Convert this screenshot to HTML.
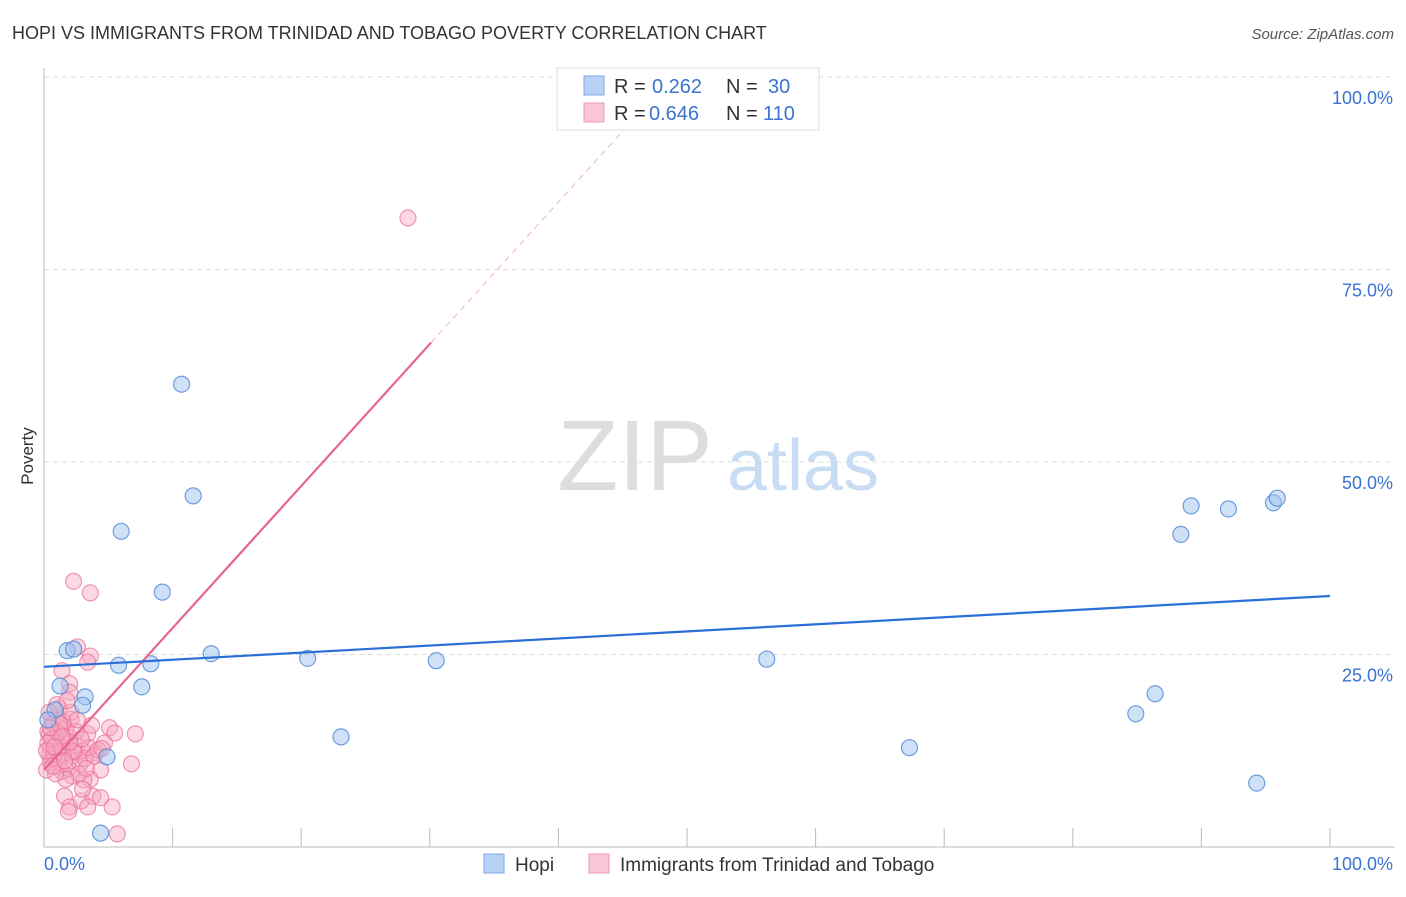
<!DOCTYPE html>
<html><head><meta charset="utf-8"><style>
body{margin:0;background:#fff;font-family:"Liberation Sans",sans-serif;}
svg text{font-family:"Liberation Sans",sans-serif;}
</style></head><body>
<svg width="1406" height="892">
<text x="12" y="39" font-size="18" fill="#333">HOPI VS IMMIGRANTS FROM TRINIDAD AND TOBAGO POVERTY CORRELATION CHART</text>
<text x="1394" y="39" font-size="15" font-style="italic" fill="#555" text-anchor="end">Source: ZipAtlas.com</text>
<g id="grid"></g>
<text x="635" y="490" font-size="100" font-family="Liberation Serif" fill="#ddd" text-anchor="middle">ZIP</text>
<text x="803" y="490" font-size="72" fill="#c8dcf3" text-anchor="middle">atlas</text>
<text x="33" y="456" font-size="17" fill="#333" text-anchor="middle" transform="rotate(-90 33 456)">Poverty</text>
<g id="marks"></g>
<g>
<rect x="557" y="68" width="262" height="62" fill="#fff" stroke="#ddd"/>
<rect x="584" y="76" width="20" height="19" fill="#b8d2f5" stroke="#7fa9e6"/>
<rect x="584" y="103" width="20" height="19" fill="#f9c6d5" stroke="#ee9ab4"/>
<text x="614" y="93" font-size="20" fill="#333">R =</text>
<text x="652" y="93" font-size="20" fill="#3a73d0">0.262</text>
<text x="726" y="93" font-size="20" fill="#333">N =</text>
<text x="768" y="93" font-size="20" fill="#3a73d0">30</text>
<text x="614" y="120" font-size="20" fill="#333">R =</text>
<text x="649" y="120" font-size="20" fill="#3a73d0">0.646</text>
<text x="726" y="120" font-size="20" fill="#333">N =</text>
<text x="763" y="120" font-size="20" fill="#3a73d0">110</text>
</g>
<g>
<rect x="484" y="854" width="20" height="19" fill="#b8d2f5" stroke="#7fa9e6"/>
<text x="515" y="871" font-size="19" fill="#333">Hopi</text>
<rect x="589" y="854" width="20" height="19" fill="#f9c6d5" stroke="#ee9ab4"/>
<text x="620" y="871" font-size="19" fill="#333">Immigrants from Trinidad and Tobago</text>
</g>
</svg>
<script>
const yTicks=[25,50,75,100];
const yTickLabels=["25.0%","50.0%","75.0%","100.0%"];
const hopiX=[0.86,1.25,1.8,2.3,3.2,3.0,4.4,4.9,5.8,6.0,7.6,8.3,9.2,10.7,11.6,13.0,20.5,23.1,30.5,56.2,67.3,84.9,86.4,88.4,89.2,92.1,94.3,95.6,95.9,0.3];
const hopiY=[17.8,20.9,25.5,25.7,19.5,18.4,1.8,11.7,23.6,41.0,20.8,23.8,33.1,60.1,45.6,25.1,24.5,14.3,24.2,24.4,12.9,17.3,19.9,40.6,44.3,43.9,8.3,44.7,45.3,16.5];
const trinX=[2.3,3.6,28.3,2.6,3.6,3.4,1.4,2.0,2.0,1.2,2.1,1.7,3.4,5.1,7.1,5.5,4.7,4.0,6.8,4.4,3.6,2.2,1.6,2.0,2.9,3.8,3.4,5.3,5.7,1.9,3.1,4.4,0.3,0.5,0.6,0.8,1.0,1.1,0.4,0.7,0.9,1.3,1.5,1.6,0.2,0.4,0.6,1.2,1.8,2.0,2.2,2.4,2.6,2.8,3.0,1.4,1.0,0.3,0.5,0.8,1.1,1.9,2.5,3.2,3.5,3.9,4.2,2.7,1.7,0.9,1.3,0.6,1.5,2.1,2.9,3.7,4.5,1.0,1.8,0.4,0.2,0.7,1.2,2.3,1.6,3.3,2.0,0.5,1.4,0.8,2.6,3.0];
const trinY=[34.5,33,81.7,26,24.8,24,22.9,21.2,20.1,18,16.6,15.3,14.7,15.5,14.7,14.8,13.5,12.2,10.8,10.0,8.8,9.2,6.6,5.2,6.0,6.6,5.2,5.2,1.7,4.6,8.7,6.4,15,13,11.5,14,12.5,10.5,12,16,13.5,15.5,12,13.8,10,14.5,16.5,11,12.8,14.2,11.8,13.2,12.2,10.8,12.5,9.8,17,13.5,11,12,14.8,10.2,15,11.5,12.9,11.8,12.6,9.5,8.8,9.5,13,14,16.2,17.5,14,15.8,12.8,18.5,19,17.5,12.5,10.5,16,12.4,11.2,10.2,13.6,15.5,14.4,13,16.5,7.5];
const hopiFit=[23.4,32.6];
const trinFit=[10,65.5];
const trinFitEnd=30.1, trinDashEnd=45.6;
const xs=v=>44+v*12.86, ys=v=>847-v*7.7;
const NS="http://www.w3.org/2000/svg";
function mk(t,a,p){const e=document.createElementNS(NS,t);for(const k in a)e.setAttribute(k,a[k]);p.appendChild(e);return e;}
const g=document.getElementById('grid'), m=document.getElementById('marks');
yTicks.forEach((t,i)=>{
 const l=mk('line',{x1:44,x2:1395,y1:ys(t),y2:ys(t),stroke:'#ddd','stroke-dasharray':'5,4'},g);
 
 
 const tx=mk('text',{x:1393,y:ys(t)+27,'font-size':18,fill:'#3a73d0','text-anchor':'end'},g);
 tx.textContent=yTickLabels[i];
 
 
});
let a=mk('line',{x1:44,x2:44,y1:68,y2:847,stroke:'#bbb'},g);


a=mk('line',{x1:44,x2:1395,y1:847,y2:847,stroke:'#bbb'},g);


for(let i=1;i<=10;i++){const t=mk('line',{x1:xs(i*10),x2:xs(i*10),y1:828,y2:847,stroke:'#bbb'},g);
 
 }
[["0.0%",44,'start'],["100.0%",1393,'end']].forEach(d=>{const t=mk('text',{x:d[1],y:870,'font-size':18,fill:'#3a73d0','text-anchor':d[2]},g);t.textContent=d[0];
 
 });
trinX.forEach((x,i)=>{const c=mk('circle',{cx:xs(x),cy:ys(trinY[i]),r:8,fill:'rgba(246,168,192,0.45)',stroke:'rgba(233,110,148,0.7)','stroke-width':1.2},m);
 
 });
hopiX.forEach((x,i)=>{const c=mk('circle',{cx:xs(x),cy:ys(hopiY[i]),r:8,fill:'rgba(160,196,240,0.5)',stroke:'rgba(80,135,215,0.8)','stroke-width':1.2},m);
 
 });
const tslope=(trinFit[1]-trinFit[0])/trinFitEnd;
let l=mk('line',{x1:xs(trinFitEnd),y1:ys(trinFit[1]),x2:xs(trinDashEnd),y2:ys(trinFit[0]+tslope*trinDashEnd),stroke:'#f0b0c4','stroke-width':1,'stroke-dasharray':'6,5'},m);


l=mk('line',{x1:xs(0),y1:ys(trinFit[0]),x2:xs(trinFitEnd),y2:ys(trinFit[1]),stroke:'#e8658f','stroke-width':2.2},m);


l=mk('line',{x1:xs(0),y1:ys(hopiFit[0]),x2:xs(100),y2:ys(hopiFit[1]),stroke:'#2a6fd6','stroke-width':2.2},m);


</script>
</body></html>
